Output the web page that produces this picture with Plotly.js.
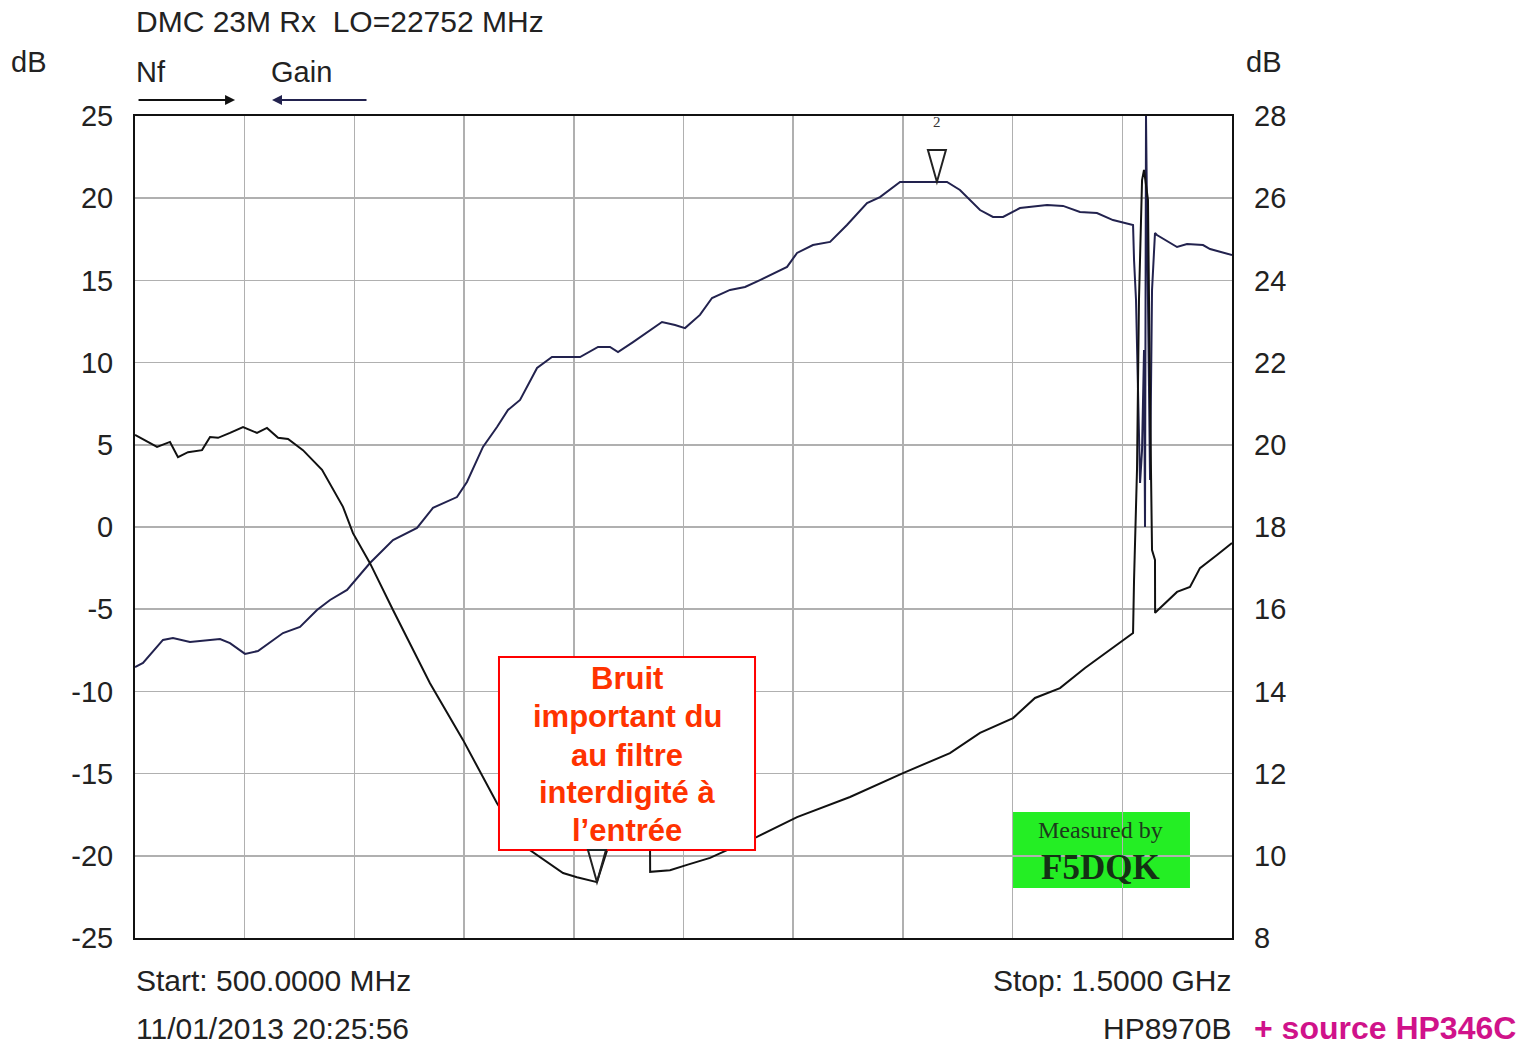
<!DOCTYPE html>
<html>
<head>
<meta charset="utf-8">
<script src="https://cdn.plot.ly/plotly-3.0.1.min.js"></script>
<style>html,body{margin:0;padding:0;background:#fff;}#chart{width:1528px;height:1046px;}</style>
</head>
<body>
<div id="chart"></div>
<script>
// Noise figure (right axis, dB)
const nfFreq = [500,520.1,531.9,539.2,548.3,561.1,568.4,575.7,586.6,598.5,611.2,620.3,630.4,639.5,653.1,670.5,689.6,698.7,714.2,735.2,768.9,799.0,830.0,857.3,890.2,902.9,921.1,925.7,934.8,960.3,969.5,969.6,987.7,1003.2,1024.2,1039.7,1067.0,1103.5,1151.8,1200.1,1242.9,1270.3,1300.4,1320.4,1343.2,1366.0,1391.5,1409.8,1410.7,1413.4,1415.2,1418.0,1419.8,1423.4,1425.3,1427.1,1429.8,1429.9,1432.5,1449.9,1461.7,1470.8,1486.3,1500];
const nfDb = [20.24,19.95,20.07,19.70,19.82,19.87,20.19,20.17,20.29,20.43,20.29,20.41,20.17,20.14,19.87,19.39,18.49,17.85,17.12,15.98,14.20,12.82,11.28,10.19,9.58,9.48,9.36,9.73,10.51,10.51,10.17,9.61,9.65,9.78,9.95,10.14,10.46,10.94,11.43,12.01,12.50,12.99,13.35,13.84,14.08,14.57,15.06,15.42,16.71,19.39,23.52,26.44,26.69,25.96,21.09,17.44,17.20,15.91,15.98,16.42,16.54,17.00,17.32,17.61];

// Gain (left axis, dB)
const gainFreq = [500,507.3,525.5,534.6,550.1,577.5,586.6,600.3,612.1,634.9,650.4,665.9,677.8,693.3,714.2,735.2,757.1,771.6,793.5,802.6,817.2,830.0,840.0,851.0,866.5,880.1,905.7,922.1,933.0,940.3,954.0,969.5,980.4,992.3,1001.4,1015.0,1026.0,1042.4,1056.1,1069.7,1083.4,1094.4,1103.5,1118.0,1133.6,1149.0,1167.3,1179.1,1197.4,1240.2,1252.0,1270.3,1282.1,1291.3,1306.7,1331.4,1346.0,1361.4,1376.9,1391.5,1409.8,1410.7,1412.5,1414.3,1416.2,1418.0,1419.8,1420.7,1421.6,1423.4,1425.3,1427.1,1429.8,1431.6,1449.9,1459.0,1473.6,1480.0,1498.2,1500];
const gainDb = [-8.52,-8.27,-6.87,-6.75,-7.00,-6.81,-7.06,-7.72,-7.54,-6.45,-6.08,-5.05,-4.44,-3.83,-2.19,-0.79,-0.06,1.16,1.82,2.74,4.87,6.08,7.12,7.73,9.67,10.34,10.34,10.95,10.95,10.64,11.25,11.98,12.47,12.29,12.10,12.90,13.93,14.42,14.60,15.02,15.45,15.82,16.67,17.15,17.34,18.37,19.71,20.07,20.99,20.99,20.50,19.28,18.86,18.86,19.40,19.59,19.53,19.16,19.10,18.67,18.37,16.24,13.81,7.73,2.68,4.68,10.77,0.0,25.0,13.81,2.86,14.42,17.88,17.76,17.03,17.21,17.15,16.91,16.61,16.55];

// Markers
const markerFreq = [921.1, 1231];
const markerVal = [9.36, 20.99];
const markerLabel = ['1', '2'];

// Ticks
const leftTicks = [-25,-20,-15,-10,-5,0,5,10,15,20,25];
const leftLabels = ['-25','-20','-15','-10','-5','0','5','10','15','20','25'];
const rightTicks = [8,10,12,14,16,18,20,22,24,26,28];
const rightLabels = ['8','10','12','14','16','18','20','22','24','26','28'];
const freqGrid = [500,600,700,800,900,1000,1100,1200,1300,1400,1500];

// Note text (one entry per line)
const noteLines = ['Bruit', 'important du', 'au filtre', 'interdigité à', 'l\u2019entrée'];

const FONT = 'Liberation Sans, Arial, sans-serif';
const TXT = '#222222';

const traces = [
  {x: gainFreq, y: gainDb, type: 'scatter', mode: 'lines', name: 'Gain', yaxis: 'y',
   line: {color: '#22224e', width: 2}},
  {x: nfFreq, y: nfDb, type: 'scatter', mode: 'lines', name: 'Nf', yaxis: 'y2',
   line: {color: '#111111', width: 2}}
];

const tri = 'M -9 32 L 9 32 L 0 0 Z';
const shapes = [
  {type: 'rect', xref: 'paper', yref: 'paper', x0: 0.8004, x1: 0.9617, y0: 0.0608, y1: 0.1533,
   fillcolor: '#24ee24', line: {width: 0}, layer: 'below'},
  {type: 'rect', xref: 'paper', yref: 'paper', x0: 0.3318, x1: 0.5652, y0: 0.1071, y1: 0.3418,
   fillcolor: '#ffffff', line: {color: '#ff0000', width: 2}, layer: 'above'},
  {type: 'path', xref: 'x', yref: 'y2', xsizemode: 'pixel', ysizemode: 'pixel',
   xanchor: markerFreq[0], yanchor: markerVal[0], path: tri,
   line: {color: '#222', width: 2}, fillcolor: 'rgba(255,255,255,0)', layer: 'above'},
  {type: 'path', xref: 'x', yref: 'y', xsizemode: 'pixel', ysizemode: 'pixel',
   xanchor: markerFreq[1], yanchor: markerVal[1], path: tri,
   line: {color: '#222', width: 2}, fillcolor: 'rgba(255,255,255,0)', layer: 'above'}
];

const dx = -0.0027;
const ann = [
  {xref: 'paper', yref: 'paper', x: 0.0018 + dx, y: 1.1144, xanchor: 'left', yanchor: 'middle', showarrow: false,
   text: 'DMC 23M Rx \u00a0LO=22752 MHz', font: {family: FONT, size: 30, color: TXT}},
  {xref: 'paper', yref: 'paper', x: -0.1121 + dx, y: 1.0657, xanchor: 'left', yanchor: 'middle', showarrow: false,
   text: 'dB', font: {family: FONT, size: 29, color: TXT}},
  {xref: 'paper', yref: 'paper', x: 1.0137 + dx, y: 1.0657, xanchor: 'left', yanchor: 'middle', showarrow: false,
   text: 'dB', font: {family: FONT, size: 29, color: TXT}},
  {xref: 'paper', yref: 'paper', x: 0.0018 + dx, y: 1.0535, xanchor: 'left', yanchor: 'middle', showarrow: false,
   text: 'Nf', font: {family: FONT, size: 29, color: TXT}},
  {xref: 'paper', yref: 'paper', x: 0.1249 + dx, y: 1.0535, xanchor: 'left', yanchor: 'middle', showarrow: false,
   text: 'Gain', font: {family: FONT, size: 29, color: TXT}},
  {xref: 'paper', yref: 'paper', x: 0.0912, y: 1.0195, text: '', showarrow: true, axref: 'pixel', ayref: 'pixel',
   ax: -98, ay: 0, arrowhead: 2, arrowsize: 1, arrowwidth: 2, arrowcolor: '#111'},
  {xref: 'paper', yref: 'paper', x: 0.1249, y: 1.0195, text: '', showarrow: true, axref: 'pixel', ayref: 'pixel',
   ax: 96, ay: 0, arrowhead: 2, arrowsize: 1, arrowwidth: 2, arrowcolor: '#22224e'},
  {xref: 'paper', yref: 'paper', x: 0.0018 + dx, y: -0.0511, xanchor: 'left', yanchor: 'middle', showarrow: false,
   text: 'Start: 500.0000 MHz', font: {family: FONT, size: 30, color: TXT}},
  {xref: 'paper', yref: 'paper', x: 0.0018 + dx, y: -0.1095, xanchor: 'left', yanchor: 'middle', showarrow: false,
   text: '11/01/2013 20:25:56', font: {family: FONT, size: 30, color: TXT}},
  {xref: 'paper', yref: 'paper', x: 0.9982 - dx, y: -0.0511, xanchor: 'right', yanchor: 'middle', showarrow: false,
   text: 'Stop: 1.5000 GHz', font: {family: FONT, size: 30, color: TXT}},
  {xref: 'paper', yref: 'paper', x: 0.9982 - dx, y: -0.1095, xanchor: 'right', yanchor: 'middle', showarrow: false,
   text: 'HP8970B', font: {family: FONT, size: 30, color: TXT}},
  {xref: 'paper', yref: 'paper', x: 1.021 + dx, y: -0.1095, xanchor: 'left', yanchor: 'middle', showarrow: false,
   text: '<b>+ source HP346C</b>', font: {family: FONT, size: 32, color: '#d0128a'}},
  {xref: 'x', yref: 'y', x: markerFreq[1], y: markerVal[1], yshift: 60, showarrow: false,
   text: markerLabel[1], font: {family: 'Liberation Serif, serif', size: 15, color: '#333'}},
  {xref: 'paper', yref: 'paper', x: 0.880, y: 0.1314, xanchor: 'center', yanchor: 'middle', showarrow: false,
   text: 'Measured by', font: {family: 'Liberation Serif, serif', size: 24, color: '#1c3a1c'}},
  {xref: 'paper', yref: 'paper', x: 0.880, y: 0.0852, xanchor: 'center', yanchor: 'middle', showarrow: false,
   text: '<b>F5DQK</b>', font: {family: 'Liberation Serif, serif', size: 35, color: '#143014'}}
];

const noteY = [0.3163, 0.2689, 0.2226, 0.1764, 0.1302];
noteLines.forEach(function (t, i) {
  ann.push({xref: 'paper', yref: 'paper', x: 0.4485, y: noteY[i], xanchor: 'center', yanchor: 'middle',
            showarrow: false, text: '<b>' + t + '</b>', font: {family: FONT, size: 31, color: '#ff3300'}});
});

const layout = {
  width: 1528, height: 1046,
  margin: {l: 135, r: 296, t: 116, b: 108, pad: 0},
  paper_bgcolor: '#ffffff', plot_bgcolor: '#ffffff',
  showlegend: false,
  xaxis: {range: [500, 1500], tickvals: freqGrid, showticklabels: false, ticks: '',
          showgrid: true, gridcolor: '#b0b0b0', gridwidth: 1.5, zeroline: false,
          showline: true, mirror: true, linecolor: '#111', linewidth: 2},
  yaxis: {range: [-25, 25], tickvals: leftTicks, ticktext: leftLabels, ticks: '',
          ticklabelstandoff: 14,
          tickfont: {family: FONT, size: 29, color: TXT},
          showgrid: true, gridcolor: '#b0b0b0', gridwidth: 1.5, zeroline: false,
          showline: true, mirror: true, linecolor: '#111', linewidth: 2},
  yaxis2: {range: [8, 28], overlaying: 'y', side: 'right', tickvals: rightTicks, ticktext: rightLabels,
           ticks: '', ticklabelstandoff: 21,
           tickfont: {family: FONT, size: 29, color: TXT},
           showgrid: false, zeroline: false, showline: false},
  shapes: shapes,
  annotations: ann
};

Plotly.newPlot('chart', traces, layout, {displayModeBar: false, staticPlot: true});
</script>
</body>
</html>
